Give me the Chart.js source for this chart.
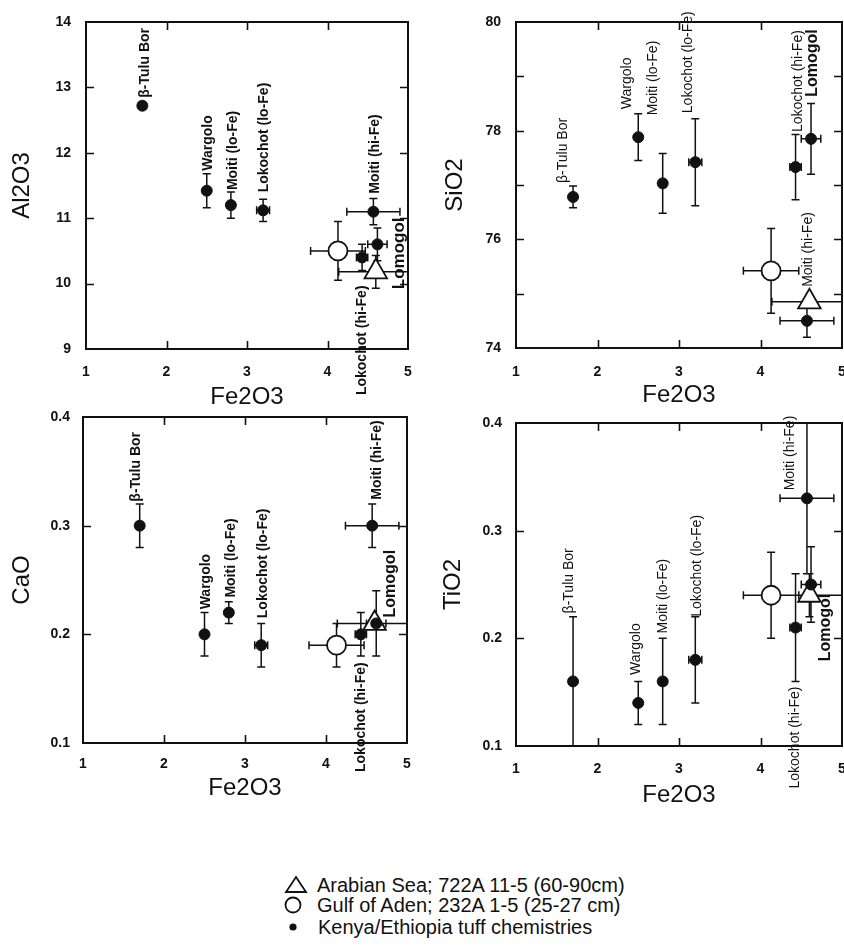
<!DOCTYPE html>
<html>
<head>
<meta charset="utf-8">
<title>Fe2O3 variation diagrams – tephra vs. Kenya/Ethiopia tuffs</title>
<script src="https://cdn.jsdelivr.net/npm/chart.js@4.4.0/dist/chart.umd.min.js"></script>
<style>
  html, body { margin: 0; padding: 0; background: #fff; width: 844px; height: 945px; overflow: hidden; }
  canvas.panel { position: absolute; }
  .legend-row { position: absolute; height: 22px; line-height: 22px; font-family: "Liberation Sans", Arial, sans-serif; font-size: 20px; color: #111; white-space: nowrap; }
  .legend-sym { position: absolute; }
</style>
</head>
<body>
<canvas id="cAl" class="panel"></canvas>
<canvas id="cSi" class="panel"></canvas>
<canvas id="cCa" class="panel"></canvas>
<canvas id="cTi" class="panel"></canvas>

<svg class="legend-sym" style="left:284px;top:875px" width="24" height="20"><polygon points="12,2 22,17 2,17" fill="none" stroke="#111" stroke-width="1.8"/></svg>
<div class="legend-row" style="left:317px;top:874px">Arabian Sea; 722A 11-5 (60-90cm)</div>
<svg class="legend-sym" style="left:283px;top:895px" width="20" height="20"><circle cx="10" cy="10" r="7.5" fill="none" stroke="#111" stroke-width="1.8"/></svg>
<div class="legend-row" style="left:317px;top:894px">Gulf of Aden; 232A 1-5 (25-27 cm)</div>
<svg class="legend-sym" style="left:286px;top:920px" width="14" height="14"><circle cx="7" cy="7" r="3.6" fill="#111"/></svg>
<div class="legend-row" style="left:318px;top:916px">Kenya/Ethiopia tuff chemistries</div>

<script>
// ---------- data ----------
const fe2o3Ticks = [1, 2, 3, 4, 5];

const tuffNames = ['β-Tulu Bor', 'Wargolo', 'Moiti (lo-Fe)', 'Lokochot (lo-Fe)', 'Moiti (hi-Fe)', 'Lokochot (hi-Fe)', 'Lomogol'];
const tuffFe2O3    = [1.70, 2.50, 2.80, 3.20, 4.57, 4.43, 4.62];
const tuffFe2O3Err = [0.04, 0.02, 0.04, 0.08, 0.33, 0.07, 0.12];

const tuffAl2O3    = [12.72, 11.42, 11.20, 11.12, 11.10, 10.40, 10.60];
const tuffAl2O3Err = [0.05, 0.26, 0.20, 0.17, 0.20, 0.20, 0.25];
const tuffSiO2     = [76.78, 77.88, 77.03, 77.42, 74.50, 77.33, 77.85];
const tuffSiO2Err  = [0.20, 0.43, 0.55, 0.80, 0.30, 0.60, 0.65];
const tuffCaO      = [0.30, 0.20, 0.22, 0.19, 0.30, 0.20, 0.21];
const tuffCaOErr   = [0.02, 0.02, 0.01, 0.02, 0.02, 0.02, 0.03];
const tuffTiO2     = [0.16, 0.14, 0.16, 0.18, 0.33, 0.21, 0.25];
const tuffTiO2Err  = [0.06, 0.02, 0.04, 0.04, 0.07, 0.05, 0.035];

// Gulf of Aden, 232A 1-5 (25-27 cm); oxide order: Al2O3, SiO2, CaO, TiO2
const adenFe2O3     = [4.13];
const adenFe2O3Err  = [0.34];
const adenOxides    = [10.50, 75.42, 0.19, 0.24];
const adenOxidesErr = [0.45, 0.78, 0.02, 0.04];

// Arabian Sea, 722A 11-5 (60-90 cm); same oxide order
const arabFe2O3     = [4.60];
const arabFe2O3Err  = [0.46];
const arabOxides    = [10.18, 74.85, 0.21, 0.24];
const arabOxidesErr = [0.25, 0.00, 0.00, 0.02];

// ---------- styling ----------
const FONT = '"Liberation Sans", Arial, Helvetica, sans-serif';
const INK = '#111';
Chart.defaults.color = INK;
Chart.defaults.font.family = FONT;

// label offsets (px) from each tuff point: [dx, dy, align]
const alLabelOffsets = [[3, -8, 'left'], [1, -20, 'left'], [2, -15, 'left'], [1, -18, 'left'], [2, -18, 'left'], [0, 28, 'right'], [22, 9, 'center']];
const siLabelOffsets = [[-10, -14, 'left'], [-11, -28, 'left'], [-10, -68, 'left'], [-7, -49, 'left'], [1, -34, 'left'], [3, -35, 'left'], [2, -42, 'left']];
const caLabelOffsets = [[-4, -24, 'left'], [2, -25, 'left'], [2, -15, 'left'], [2, -27, 'left'], [5, -26, 'left'], [0, 28, 'right'], [14, -6, 'left']];
const tiLabelOffsets = [[-4, -68, 'left'], [-2, -28, 'left'], [0, -48, 'left'], [2, -43, 'left'], [-17, -8, 'left'], [0, 59, 'right'], [15, 43, 'center']];

const panels = [
  { id: 'cAl', left: 0, top: 0, width: 425, height: 412, area: { l: 86, t: 22, r: 408, b: 349 },
    yTitle: 'Al2O3', yMin: 9, yMax: 14, yStep: 1, fmt: v => String(v),
    values: tuffAl2O3, errs: tuffAl2O3Err, oxide: 0, offsets: alLabelOffsets, weight: 'bold', lomogolSize: 17,
    yTickPad: 15, yTitlePad: 7.6, xTickPad: 14.6, xTitlePad: 0 },
  { id: 'cSi', left: 430, top: 0, width: 414, height: 412, area: { l: 86, t: 22, r: 412, b: 348 },
    yTitle: 'SiO2', yMin: 74, yMax: 80, yStep: 1, fmt: v => (v % 2 === 0 ? String(v) : ''),
    values: tuffSiO2, errs: tuffSiO2Err, oxide: 1, offsets: siLabelOffsets, weight: 'normal', lomogolSize: 16,
    yTickPad: 15, yTitlePad: 10.6, xTickPad: 15.6, xTitlePad: 2.6 },
  { id: 'cCa', left: 0, top: 400, width: 425, height: 412, area: { l: 83, t: 17, r: 407, b: 343 },
    yTitle: 'CaO', yMin: 0.1, yMax: 0.4, yStep: 0.1, fmt: v => v.toFixed(1),
    values: tuffCaO, errs: tuffCaOErr, oxide: 2, offsets: caLabelOffsets, weight: 'bold', lomogolSize: 16,
    yTickPad: 13, yTitlePad: 7.6, xTickPad: 12.6, xTitlePad: 9.6 },
  { id: 'cTi', left: 430, top: 400, width: 414, height: 412, area: { l: 86, t: 23, r: 412, b: 346 },
    yTitle: 'TiO2', yMin: 0.1, yMax: 0.4, yStep: 0.1, fmt: v => v.toFixed(1),
    values: tuffTiO2, errs: tuffTiO2Err, oxide: 3, offsets: tiLabelOffsets, weight: 'normal', lomogolSize: 16,
    yTickPad: 14, yTitlePad: 8.6, xTickPad: 14.6, xTitlePad: 2.6 }
];

// ---------- plugins ----------
// box frame with inward tick marks on all four sides
const framePlugin = {
  id: 'frameTicks',
  beforeDatasetsDraw(chart) {
    const { ctx, chartArea: a, scales: { x, y } } = chart;
    const len = 8;
    ctx.save();
    ctx.strokeStyle = INK;
    ctx.lineWidth = 1.6;
    ctx.beginPath();
    x.ticks.forEach(t => {
      if (t.value <= x.min || t.value >= x.max) return;
      const px = Math.round(x.getPixelForValue(t.value)) + 0.5;
      ctx.moveTo(px, a.bottom); ctx.lineTo(px, a.bottom - len);
      ctx.moveTo(px, a.top); ctx.lineTo(px, a.top + len);
    });
    y.ticks.forEach(t => {
      if (t.value <= y.min + 1e-9 || t.value >= y.max - 1e-9) return;
      const py = Math.round(y.getPixelForValue(t.value)) + 0.5;
      ctx.moveTo(a.left, py); ctx.lineTo(a.left + len, py);
      ctx.moveTo(a.right, py); ctx.lineTo(a.right - len, py);
    });
    ctx.stroke();
    ctx.lineWidth = 2;
    ctx.strokeRect(a.left, a.top, a.right - a.left, a.bottom - a.top);
    ctx.restore();
  }
};

// symmetric error bars stored on each point as xErr / yErr
const errorBarPlugin = {
  id: 'errorBars',
  beforeDatasetsDraw(chart) {
    const { ctx, chartArea: a, scales: { x, y } } = chart;
    const cap = 4;
    ctx.save();
    ctx.beginPath();
    ctx.rect(a.left, a.top, a.right - a.left, a.bottom - a.top);
    ctx.clip();
    ctx.strokeStyle = INK;
    ctx.lineWidth = 1.5;
    ctx.beginPath();
    chart.data.datasets.forEach(ds => {
      ds.data.forEach(p => {
        const px = x.getPixelForValue(p.x), py = y.getPixelForValue(p.y);
        if (p.yErr) {
          const t = y.getPixelForValue(p.y + p.yErr), b = y.getPixelForValue(p.y - p.yErr);
          ctx.moveTo(px, t); ctx.lineTo(px, b);
          ctx.moveTo(px - cap, t); ctx.lineTo(px + cap, t);
          ctx.moveTo(px - cap, b); ctx.lineTo(px + cap, b);
        }
        if (p.xErr) {
          const l = x.getPixelForValue(p.x - p.xErr), r = x.getPixelForValue(p.x + p.xErr);
          ctx.moveTo(l, py); ctx.lineTo(r, py);
          ctx.moveTo(l, py - cap); ctx.lineTo(l, py + cap);
          ctx.moveTo(r, py - cap); ctx.lineTo(r, py + cap);
        }
      });
    });
    ctx.stroke();
    ctx.restore();
  }
};

// vertical tuff names beside each Kenya/Ethiopia point
function makeLabelPlugin(panel) {
  return {
    id: 'tuffLabels',
    afterDatasetsDraw(chart) {
      const { ctx, scales: { x, y } } = chart;
      ctx.save();
      ctx.fillStyle = INK;
      ctx.textBaseline = 'middle';
      tuffNames.forEach((name, i) => {
        const [dx, dy, align] = panel.offsets[i];
        const px = x.getPixelForValue(tuffFe2O3[i]) + dx;
        const py = y.getPixelForValue(panel.values[i]) + dy;
        const big = name === 'Lomogol';
        ctx.font = (big ? 'bold ' + panel.lomogolSize : panel.weight + ' 14') + 'px ' + FONT;
        ctx.textAlign = align;
        ctx.save();
        ctx.translate(px, py);
        ctx.rotate(-Math.PI / 2);
        ctx.fillText(name, 0, 0);
        ctx.restore();
      });
      ctx.restore();
    }
  };
}

// ---------- charts ----------
panels.forEach(p => {
  const canvas = document.getElementById(p.id);
  canvas.width = p.width;
  canvas.height = p.height;
  canvas.style.left = p.left + 'px';
  canvas.style.top = p.top + 'px';
  canvas.style.width = p.width + 'px';
  canvas.style.height = p.height + 'px';

  const tuffPoints = tuffNames.map((n, i) => ({ x: tuffFe2O3[i], y: p.values[i], xErr: tuffFe2O3Err[i], yErr: p.errs[i] }));
  const adenPoints = [{ x: adenFe2O3[0], y: adenOxides[p.oxide], xErr: adenFe2O3Err[0], yErr: adenOxidesErr[p.oxide] }];
  const arabPoints = [{ x: arabFe2O3[0], y: arabOxides[p.oxide], xErr: arabFe2O3Err[0], yErr: arabOxidesErr[p.oxide] }];

  new Chart(canvas, {
    type: 'scatter',
    data: {
      datasets: [
        { label: 'Kenya/Ethiopia tuff chemistries', data: tuffPoints, pointStyle: 'circle', pointRadius: 5.5,
          backgroundColor: INK, borderColor: INK, borderWidth: 1 },
        { label: 'Gulf of Aden; 232A 1-5 (25-27 cm)', data: adenPoints, pointStyle: 'circle', pointRadius: 9.5,
          backgroundColor: '#fff', borderColor: INK, borderWidth: 1.8 },
        { label: 'Arabian Sea; 722A 11-5 (60-90cm)', data: arabPoints, pointStyle: 'triangle', pointRadius: 13,
          backgroundColor: '#fff', borderColor: INK, borderWidth: 1.8 }
      ]
    },
    options: {
      responsive: false,
      animation: false,
      events: [],
      layout: { autoPadding: false, padding: { left: 0, top: p.area.t, right: p.width - p.area.r, bottom: 0 } },
      plugins: { legend: { display: false }, tooltip: { enabled: false } },
      scales: {
        x: {
          type: 'linear', position: 'bottom', min: 1, max: 5,
          afterBuildTicks: s => { s.ticks = fe2o3Ticks.map(v => ({ value: v })); },
          ticks: { padding: p.xTickPad, color: INK, maxRotation: 0, autoSkip: false,
                   font: { family: FONT, size: 14, weight: 'bold' }, callback: v => String(v) },
          grid: { display: false, drawTicks: false },
          border: { display: false },
          title: { display: true, text: 'Fe2O3', color: INK, font: { family: FONT, size: 24 },
                   padding: { top: 0, bottom: p.xTitlePad } },
          afterFit: s => { s.height = p.height - p.area.b; s.paddingLeft = 0; s.paddingRight = 0; }
        },
        y: {
          type: 'linear', position: 'left', min: p.yMin, max: p.yMax,
          ticks: { stepSize: p.yStep, padding: p.yTickPad, color: INK, autoSkip: false,
                   font: { family: FONT, size: 14, weight: 'bold' }, callback: v => p.fmt(v) },
          grid: { display: false, drawTicks: false },
          border: { display: false },
          title: { display: true, text: p.yTitle, color: INK, font: { family: FONT, size: 24 },
                   padding: { top: p.yTitlePad, bottom: 0 } },
          afterFit: s => { s.width = p.area.l; s.paddingTop = 0; s.paddingBottom = 0; }
        }
      }
    },
    plugins: [framePlugin, errorBarPlugin, makeLabelPlugin(p)]
  });
});
</script>
</body>
</html>
